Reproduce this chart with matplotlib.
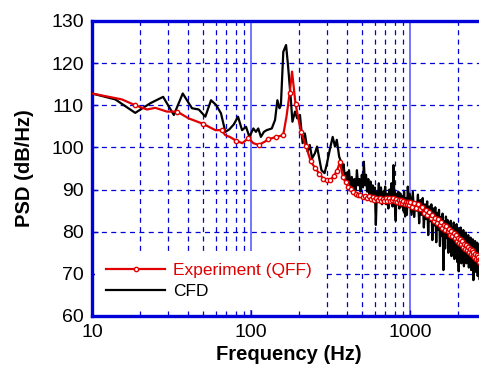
import numpy as np
import matplotlib
matplotlib.use("Agg")
import matplotlib.pyplot as plt
from matplotlib import ticker

plt.rcParams['font.family'] = ['Liberation Sans', 'DejaVu Sans']

# --- experiment (QFF) ---
exp_f_low = [10, 15.4, 18.7, 22.2, 25.0, 29.6, 34.3, 40.5, 49.9, 59.7, 65.2, 68.9,
             73.5, 80.7, 88.0, 96.3, 103.4, 112.0, 122.4, 128.0, 143.6, 159.2, 167.0,
             174.8, 181.0, 190.4, 206.0, 221.6, 237.2, 252.8, 268.4, 284.0, 299.6,
             315.2, 330.8, 346.4, 362.0, 377.6]
exp_psd_low = [112.8, 111.4, 110.0, 109.0, 109.4, 108.5, 108.5, 106.9, 105.6, 104.1, 104.1, 102.9,
               102.5, 101.6, 101.0, 102.2, 101.0, 100.6, 101.4, 101.9, 102.5, 102.9, 107.3,
               112.8, 118.0, 110.3, 103.7, 100.3, 96.7, 95.1, 93.8, 92.6, 92.3,
               92.2, 93.2, 94.4, 96.5, 93.1]
# points of the line that carry no marker
exp_bends = [10, 15.4, 22.2, 25.0, 29.6, 40.5, 59.7, 68.9, 73.5, 88.0, 103.4, 122.4, 167.0, 181.0]

# 393 .. 986 Hz, one value per 15.6 Hz bin
exp_mid_start, exp_mid_step = 393.0, 15.6
exp_psd_mid = [91.7, 90.7, 90.2, 89.5, 88.9, 88.6, 88.8, 88.3, 88.5, 88.0, 88.4, 87.8, 88.2,
               87.6, 88.0, 87.5, 87.9, 87.3, 87.8, 87.4, 88.0, 87.3, 87.9, 87.2, 87.6, 88.1,
               87.4, 87.8, 87.1, 87.6, 86.9, 87.5, 86.8, 87.3, 86.6, 87.1, 86.5, 87.0, 86.4]

# 1001 .. 2998 Hz, one value per 31.2 Hz
exp_high_start, exp_high_step = 1001.4, 31.2
exp_psd_high = [87.1, 85.9, 86.8, 85.7, 86.6, 85.3, 85.9, 84.5, 85.2, 83.9, 84.6, 83.3, 83.9,
                82.5, 83.2, 82.0, 82.9, 81.6, 82.2, 80.8, 81.5, 80.3, 81.4, 80.1, 80.7, 79.3,
                80.1, 78.9, 79.8, 78.5, 79.2, 77.8, 78.6, 77.4, 78.3, 77.0, 77.7, 76.3, 77.1,
                76.0, 76.9, 75.7, 76.4, 75.1, 75.9, 74.8, 75.7, 74.5, 75.2, 73.9, 74.7, 73.6,
                74.5, 73.3, 74.0, 72.7, 73.5, 72.4, 73.4, 72.2, 73.0, 71.7, 72.6, 71.5, 72.5]

# --- CFD ---
cfd_f_low = [10, 14.0, 18.7, 23.3, 28.0, 32.7, 37.2, 42.5, 46.9, 51.6, 56.0, 60.2, 64.7, 68.9,
             73.1, 78.0, 82.8, 87.8, 93.0, 97.6, 103.4, 107.3, 111.0, 115.3, 120.5, 125.4,
             130.0, 135.0, 141.5, 146.4, 151.0, 154.0, 159.5, 166.0, 171.0, 178.0, 182.0,
             189.0, 195.0, 203.0, 211.0, 218.0, 227.0, 234.0, 242.0, 252.0, 260.0, 267.0,
             277.0, 290.0, 300.0, 314.0, 326.0, 337.0, 346.0, 358.0]
cfd_psd_low = [112.8, 111.4, 108.2, 110.5, 112.0, 107.7, 112.8, 109.3, 109.0, 107.3, 111.2, 110.1,
               108.1, 103.7, 104.3, 105.5, 107.3, 104.1, 104.9, 102.5, 104.5, 103.7, 104.5,
               102.5, 103.7, 104.1, 104.3, 104.5, 106.5, 111.2, 109.3, 110.0, 122.7, 124.3,
               119.2, 111.2, 106.1, 108.5, 106.9, 107.7, 101.0, 103.3, 99.0, 100.6, 97.4,
               98.6, 100.2, 97.8, 94.6, 93.9, 96.2, 99.8, 102.5, 100.2, 101.8, 97.8]

cfd_f_mid = [368, 375, 382, 390, 398, 405, 413, 421, 430, 438, 446, 455, 463, 471, 480, 488,
             497, 505, 512, 520, 528, 537, 546, 555, 564, 573, 582, 591, 600, 609, 618, 627,
             636, 646, 656, 666, 676, 686, 697, 708, 719, 730, 741, 752, 763, 775, 786, 797,
             812, 820, 832, 844, 856, 868, 880, 892, 905, 917, 930, 942, 955, 967, 980, 992]
cfd_psd_mid = [96.6, 94.6, 96.0, 92.0, 94.0, 91.5, 94.6, 90.7, 93.0, 90.0, 92.5, 89.8, 94.6,
               91.0, 92.5, 89.5, 93.5, 90.5, 96.6, 91.0, 93.5, 89.5, 92.5, 89.0, 91.9, 88.5,
               91.0, 87.5, 90.5, 81.6, 89.5, 88.0, 91.5, 87.0, 90.5, 86.5, 89.5, 88.0, 90.7,
               86.5, 89.0, 85.5, 90.0, 87.5, 91.5, 86.0, 95.8, 88.0, 82.6, 89.0, 86.5, 89.5,
               85.5, 89.1, 86.0, 88.5, 85.0, 89.5, 83.6, 88.0, 84.0, 90.7, 86.0, 89.0]

# 1000 .. 2980 Hz, one value per 20 Hz
cfd_high_start, cfd_high_step = 1000.0, 20.0
cfd_psd_high = [88.5, 84.0, 89.5, 83.5, 87.0, 85.0, 88.8, 82.0, 87.5, 84.0, 88.0, 81.0, 86.5,
                83.0, 87.2, 79.2, 86.0, 82.5, 86.5, 78.0, 85.5, 81.5, 85.8, 77.5, 84.5, 80.5,
                85.2, 76.6, 83.5, 79.0, 84.3, 70.9, 82.5, 76.0, 83.6, 78.5, 82.8, 75.0, 82.0,
                77.5, 82.6, 74.2, 81.0, 76.5, 82.2, 73.5, 80.5, 77.0, 81.8, 72.8, 79.5, 70.6,
                80.8, 74.5, 81.0, 72.5, 79.5, 75.5, 80.4, 71.8, 78.8, 74.0, 79.8, 72.5, 78.5,
                75.0, 79.2, 71.5, 77.8, 73.5, 78.6, 70.9, 77.0, 74.0, 78.2, 68.5, 76.5, 72.0,
                77.8, 70.5, 76.8, 73.0, 77.4, 69.5, 76.0, 71.5, 77.0, 68.6, 75.5, 72.0, 76.6,
                69.0, 75.0, 71.0, 76.2, 68.5, 74.5, 70.5, 75.8, 69.0]

exp_f_mid = exp_mid_start + exp_mid_step * np.arange(len(exp_psd_mid))
exp_f_high = exp_high_start + exp_high_step * np.arange(len(exp_psd_high))
exp_f = np.concatenate([exp_f_low, exp_f_mid, exp_f_high])
exp_psd = np.concatenate([exp_psd_low, exp_psd_mid, exp_psd_high])
marks = [i for i, f in enumerate(exp_f) if f not in exp_bends]

cfd_f_high = cfd_high_start + cfd_high_step * np.arange(len(cfd_psd_high))
cfd_f = np.concatenate([cfd_f_low, cfd_f_mid, cfd_f_high])
cfd_psd = np.concatenate([cfd_psd_low, cfd_psd_mid, cfd_psd_high])

blue = '#0000d8'

fig = plt.figure(figsize=(4.79, 3.67), dpi=100)
# axes runs a little past the right edge of the picture, as in the original
ax = fig.add_axes([92 / 479, 1 - 316 / 367, 394 / 479, 295 / 367])

ax.set_xscale('log')
ax.set_xlim(10, 3000)
ax.set_ylim(60, 130)
ax.yaxis.set_major_locator(ticker.MultipleLocator(10))
ax.xaxis.set_major_locator(ticker.LogLocator(base=10, numticks=10))
ax.xaxis.set_major_formatter(ticker.FuncFormatter(lambda v, p: '%d' % v))
ax.xaxis.set_minor_locator(ticker.LogLocator(base=10, subs=np.arange(2, 10), numticks=20))
ax.xaxis.set_minor_formatter(ticker.NullFormatter())

# grid
ax.grid(which='minor', axis='x', color=blue, linestyle=(0, (4, 3.5)), linewidth=0.9)
ax.grid(which='major', axis='y', color=blue, linestyle=(0, (4, 3.5)), linewidth=0.9)
ax.grid(which='major', axis='x', color='#6a6aff', linestyle='-', linewidth=1.3)
ax.set_axisbelow(True)

ax.plot(cfd_f, cfd_psd, color='black', linewidth=1.6, label='CFD', zorder=3)
ax.plot(exp_f, exp_psd, color='#e00000', linewidth=1.6, marker='o', markersize=3.1,
        markerfacecolor='white', markeredgecolor='#e00000', markeredgewidth=1.0,
        markevery=marks, label='Experiment (QFF)', zorder=4)

for s in ax.spines.values():
    s.set_color(blue)
    s.set_linewidth(2.4)

ax.tick_params(axis='both', which='major', direction='in', length=4, width=1,
               color=blue, labelcolor='black', labelsize=14, pad=6)
ax.tick_params(axis='both', which='minor', length=0)

ax.set_xlabel('Frequency (Hz)', fontsize=14.5, fontweight='bold', labelpad=3)
ax.set_ylabel('PSD (dB/Hz)', fontsize=14.5, fontweight='bold', labelpad=12)

h, l = ax.get_legend_handles_labels()
leg = ax.legend(h[::-1], l[::-1], loc='lower left', bbox_to_anchor=(0.008, 0.02),
                borderaxespad=0, fontsize=12.5, handlelength=3.4, handletextpad=0.45,
                labelspacing=0.35, borderpad=0.65, numpoints=1, frameon=True,
                fancybox=False, framealpha=1)
leg.get_frame().set_edgecolor('none')
leg.get_frame().set_facecolor('white')
leg.get_texts()[0].set_color('#e00000')
leg.set_zorder(2.5)

fig.savefig('out.png', dpi=100)
